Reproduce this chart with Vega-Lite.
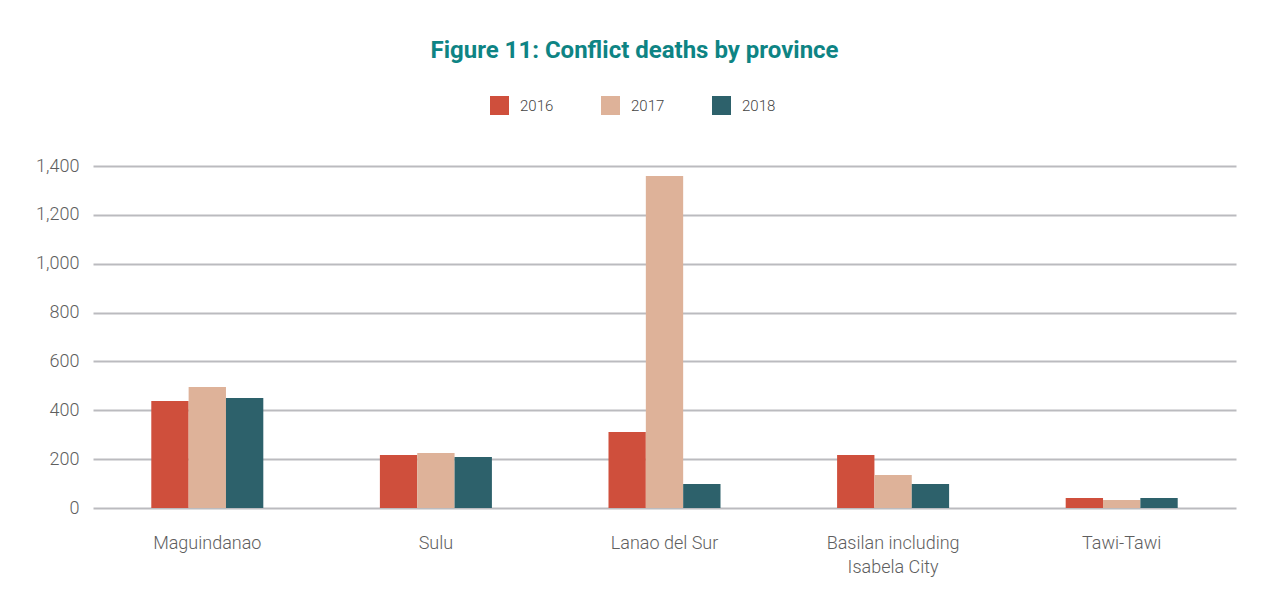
{
  "$schema": "https://vega.github.io/schema/vega-lite/v6.json",
  "width": 1143,
  "height": 342,
  "autosize": {"type": "none"},
  "padding": {"left": 93, "top": 166, "right": 25, "bottom": 88},
  "background": "white",
  "title": {
    "text": "Figure 11: Conflict deaths by province",
    "font": "Roboto",
    "fontSize": 24,
    "fontWeight": "bold",
    "color": "#0E8484",
    "anchor": "middle",
    "dx": -30,
    "offset": 33
  },
  "data": {
    "values": [
      {"province": "Maguindanao", "year": "2016", "deaths": 438},
      {"province": "Maguindanao", "year": "2017", "deaths": 495},
      {"province": "Maguindanao", "year": "2018", "deaths": 450},
      {"province": "Sulu", "year": "2016", "deaths": 217},
      {"province": "Sulu", "year": "2017", "deaths": 225},
      {"province": "Sulu", "year": "2018", "deaths": 209},
      {"province": "Lanao del Sur", "year": "2016", "deaths": 311},
      {"province": "Lanao del Sur", "year": "2017", "deaths": 1359},
      {"province": "Lanao del Sur", "year": "2018", "deaths": 98},
      {"province": "Basilan including Isabela City", "year": "2016", "deaths": 217},
      {"province": "Basilan including Isabela City", "year": "2017", "deaths": 135},
      {"province": "Basilan including Isabela City", "year": "2018", "deaths": 98},
      {"province": "Tawi-Tawi", "year": "2016", "deaths": 41},
      {"province": "Tawi-Tawi", "year": "2017", "deaths": 33},
      {"province": "Tawi-Tawi", "year": "2018", "deaths": 41}
    ]
  },
  "mark": {"type": "bar"},
  "encoding": {
    "x": {
      "field": "province",
      "type": "nominal",
      "sort": null,
      "scale": {"paddingInner": 0.51, "paddingOuter": 0.255},
      "axis": {
        "title": null,
        "labelAngle": 0,
        "domain": false,
        "ticks": false,
        "labelFont": "Roboto",
        "labelFontWeight": 300,
        "labelFontSize": 18,
        "labelColor": "#5E5E5E",
        "labelPadding": 26,
        "labelLineHeight": 24,
        "labelExpr": "datum.value == 'Basilan including Isabela City' ? ['Basilan including', 'Isabela City'] : datum.value"
      }
    },
    "xOffset": {"field": "year", "type": "nominal", "scale": {"paddingInner": 0, "paddingOuter": 0}},
    "y": {
      "field": "deaths",
      "type": "quantitative",
      "scale": {"domain": [0, 1400], "nice": false},
      "axis": {
        "title": null,
        "values": [0, 200, 400, 600, 800, 1000, 1200, 1400],
        "format": ",.0f",
        "domain": false,
        "ticks": false,
        "labelFont": "Roboto",
        "labelFontWeight": 300,
        "labelFontSize": 18,
        "labelColor": "#5E5E5E",
        "labelPadding": 14,
        "gridColor": "#BBBBBF",
        "gridWidth": 2
      }
    },
    "color": {
      "field": "year",
      "type": "nominal",
      "scale": {"domain": ["2016", "2017", "2018"], "range": ["#CF4F3C", "#DEB299", "#2D616B"]},
      "legend": {
        "title": null,
        "orient": "none",
        "direction": "horizontal",
        "legendX": 397,
        "legendY": -70,
        "symbolType": "square",
        "symbolSize": 361,
        "symbolStrokeWidth": 0,
        "symbolOpacity": 1,
        "labelFont": "Roboto",
        "labelFontWeight": 300,
        "labelFontSize": 15,
        "labelColor": "#444444",
        "labelOffset": 11,
        "columnPadding": 47
      }
    }
  },
  "config": {
    "view": {"stroke": null}
  }
}
